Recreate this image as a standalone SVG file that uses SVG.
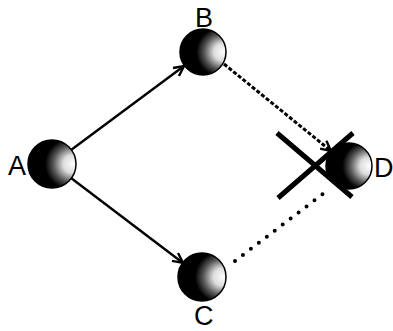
<svg xmlns="http://www.w3.org/2000/svg" width="393" height="331" viewBox="0 0 393 331">
<style>
.lbl{font-family:"Liberation Sans",Arial,sans-serif;font-size:27px;fill:#000}
.ball{fill:url(#shade);stroke:#000;stroke-width:1.5}
.edge{fill:none;stroke:#000}
</style>
<defs>
<radialGradient id="shade" cx="0.85" cy="0.5" r="0.75" fx="0.95" fy="0.5">
<stop offset="0" stop-color="#fff"/>
<stop offset="0.25" stop-color="#ddd"/>
<stop offset="0.5" stop-color="#555"/>
<stop offset="0.7" stop-color="#000"/>
<stop offset="1" stop-color="#000"/>
</radialGradient>
<marker id="arr" viewBox="0 0 12 12" refX="11" refY="6" markerWidth="12" markerHeight="12" markerUnits="userSpaceOnUse" orient="auto">
<path d="M1,1 L11,6 L1,11" fill="none" stroke="#000" stroke-width="2.4"/>
</marker>
</defs>
<g id="connectors">
<line class="edge" x1="71" y1="150" x2="184" y2="66" stroke-width="2.4" marker-end="url(#arr)"/>
<line class="edge" x1="71" y1="178" x2="183" y2="263" stroke-width="2.4" marker-end="url(#arr)"/>
<line class="edge" x1="224" y1="64" x2="331" y2="151" stroke-width="3" stroke-dasharray="4 2" marker-end="url(#arr)"/>
<line class="edge" x1="235" y1="261" x2="328" y2="190" stroke-width="4" stroke-linecap="round" stroke-dasharray="0 10"/>
</g>
<g id="A">
<circle class="ball" cx="52" cy="164" r="24"/>
<text class="lbl" x="8" y="175">A</text>
</g>
<g id="B">
<circle class="ball" cx="203" cy="52" r="23"/>
<text class="lbl" x="195" y="27">B</text>
</g>
<g id="C">
<circle class="ball" cx="202" cy="277" r="24"/>
<text class="lbl" x="194" y="325">C</text>
</g>
<g id="D">
<circle class="ball" cx="349" cy="166" r="23"/>
<text class="lbl" x="374" y="177">D</text>
</g>
<g id="cross">
<line x1="277" y1="133" x2="352" y2="197" stroke="#000" stroke-width="5"/>
<line x1="353" y1="133" x2="278" y2="198" stroke="#000" stroke-width="5"/>
</g>
</svg>
